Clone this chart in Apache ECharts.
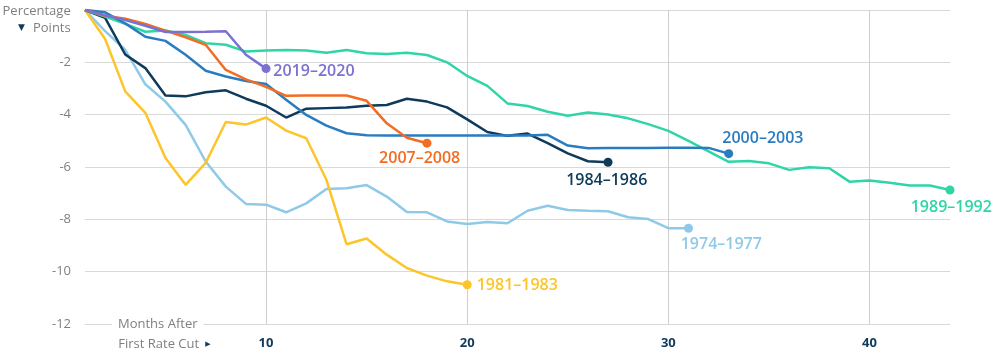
<!DOCTYPE html>
<html><head><meta charset="utf-8">
<script src="https://cdn.jsdelivr.net/npm/echarts@6/dist/echarts.min.js"></script>
<style>html,body{margin:0;padding:0;background:#fff}#c{width:997px;height:356px}</style>
</head><body><div id="c"></div>
<script>
// Months after first rate cut (category ticks)
const months = ['1','2','3','4','5','6','7','8','9','10','11','12','13','14','15','16','17','18','19','20','21','22','23','24','25','26','27','28','29','30','31','32','33','34','35','36','37','38','39','40','41','42','43','44'];
const yTicks = [0, -2, -4, -6, -8, -10, -12];

// Cumulative change in the policy rate (percentage points)
const s1974 = [0, -0.81, -1.52, -2.84, -3.50, -4.39, -5.79, -6.75, -7.41, -7.44, -7.73, -7.39, -6.84, -6.81, -6.69, -7.13, -7.72, -7.73, -8.08, -8.18, -8.10, -8.15, -7.67, -7.48, -7.64, -7.67, -7.69, -7.92, -7.99, -8.34, -8.34];
const s1981 = [0, -1.11, -3.11, -3.93, -5.66, -6.68, -5.84, -4.28, -4.38, -4.11, -4.61, -4.90, -6.49, -8.95, -8.73, -9.35, -9.86, -10.15, -10.37, -10.50];
const s1984 = [0, -0.30, -1.70, -2.22, -3.27, -3.30, -3.14, -3.07, -3.39, -3.66, -4.11, -3.77, -3.75, -3.73, -3.66, -3.63, -3.39, -3.50, -3.72, -4.18, -4.66, -4.81, -4.72, -5.09, -5.48, -5.78, -5.82];
const s1989 = [0, -0.25, -0.53, -0.83, -0.78, -0.95, -1.27, -1.33, -1.59, -1.55, -1.53, -1.55, -1.63, -1.53, -1.65, -1.68, -1.63, -1.72, -2.00, -2.52, -2.90, -3.57, -3.67, -3.89, -4.04, -3.92, -3.99, -4.14, -4.36, -4.62, -5.00, -5.40, -5.80, -5.77, -5.86, -6.11, -6.01, -6.05, -6.56, -6.52, -6.60, -6.71, -6.71, -6.88];
const s2000 = [0, -0.09, -0.51, -1.02, -1.18, -1.71, -2.32, -2.54, -2.71, -2.83, -3.43, -4.01, -4.42, -4.71, -4.79, -4.80, -4.80, -4.80, -4.80, -4.80, -4.80, -4.80, -4.80, -4.77, -5.18, -5.28, -5.27, -5.27, -5.27, -5.26, -5.26, -5.27, -5.49];
const s2007 = [0, -0.22, -0.33, -0.53, -0.79, -1.04, -1.33, -2.29, -2.65, -2.94, -3.28, -3.27, -3.27, -3.27, -3.47, -4.33, -4.88, -5.09];
const s2019 = [0, -0.20, -0.38, -0.60, -0.84, -0.84, -0.83, -0.81, -1.71, -2.24];

const seriesNames = ['1974–1977', '1981–1983', '1984–1986', '1989–1992', '2000–2003', '2007–2008', '2019–2020'];
const seriesColors = ['#8ecae8', '#fcc52b', '#0e3a5b', '#2fd5a7', '#2a7cc0', '#f26c22', '#7a71d1'];
const seriesValues = [s1974, s1981, s1984, s1989, s2000, s2007, s2019];

// end-label placement (style only)
const labelPlacement = [
  {align: 'left',   offset: [-7.8, 16.7]},
  {align: 'left',   offset: [9.5, 1]},
  {align: 'center', offset: [-1.3, 17.7]},
  {align: 'center', offset: [1.3, 17.3]},
  {align: 'left',   offset: [-6.4, -15.4]},
  {align: 'center', offset: [-7.3, 15]},
  {align: 'left',   offset: [7.3, 2.7]}
];

const FONT = '"Open Sans", "Noto Sans", sans-serif';
const GREY = '#7f7f7f';
const NAVY = '#0e3a5b';

function makeSeries(i) {
  const vals = seriesValues[i];
  const color = seriesColors[i];
  const name = seriesNames[i];
  const pl = labelPlacement[i];
  const data = vals.map((v, k) => k === vals.length - 1 ? {
    value: v, symbol: 'circle', symbolSize: 9,
    label: {
      show: true, position: 'inside', formatter: name, color: color,
      align: pl.align, verticalAlign: 'middle', offset: pl.offset,
      fontSize: 16, fontWeight: 600, fontFamily: FONT
    }
  } : v);
  return {
    type: 'line', name: name, data: data,
    symbol: 'circle', symbolSize: 0, showSymbol: true, showAllSymbol: true,
    lineStyle: {width: 2.5, color: color}, itemStyle: {color: color},
    silent: true, animation: false, z: 2 + i
  };
}

const chart = echarts.init(document.getElementById('c'), null, {renderer: 'canvas'});
chart.setOption({
  backgroundColor: '#fff',
  animation: false,
  grid: {left: 85, right: 47, top: 10, bottom: 32, containLabel: false},
  xAxis: {
    type: 'category', data: months, boundaryGap: false,
    axisLine: {show: false}, axisTick: {show: false},
    splitLine: {show: true, interval: (idx, val) => (+val) % 10 === 0, lineStyle: {color: '#cfcfcf', width: 1}},
    axisLabel: {interval: (idx, val) => (+val) % 10 === 0, color: NAVY, fontWeight: 'bold', fontSize: 13, fontFamily: FONT, margin: 13}
  },
  yAxis: {
    type: 'value', min: yTicks[yTicks.length - 1], max: yTicks[0], interval: 2,
    axisLine: {show: false}, axisTick: {show: false},
    splitLine: {show: true, lineStyle: {color: '#d9d9d9', width: 1}},
    axisLabel: {formatter: v => (v === 0 ? '' : String(v)), color: GREY, fontSize: 13, fontFamily: FONT, margin: 14}
  },
  graphic: [
    {type: 'text', z: 100, x: 70.7, y: 11, style: {text: 'Percentage', align: 'right', verticalAlign: 'middle', fill: GREY, fontSize: 13, fontFamily: FONT}},
    {type: 'text', z: 100, x: 70.7, y: 28.5, style: {text: 'Points', align: 'right', verticalAlign: 'middle', fill: GREY, fontSize: 13, fontFamily: FONT}},
    {type: 'text', z: 100, x: 21.5, y: 27.5, style: {text: '▼', align: 'center', verticalAlign: 'middle', fill: NAVY, fontSize: 9, fontFamily: '"DejaVu Sans"'}},
    {type: 'text', z: 100, x: 112, y: 324.3, style: {text: 'Months After', align: 'left', verticalAlign: 'middle', fill: GREY, fontSize: 13, fontFamily: FONT, backgroundColor: '#fff', padding: [2, 6]}},
    {type: 'text', z: 100, x: 118.3, y: 344.3, style: {text: 'First Rate Cut', align: 'left', verticalAlign: 'middle', fill: GREY, fontSize: 13, fontFamily: FONT}},
    {type: 'text', z: 100, x: 208, y: 343.8, style: {text: '▶', align: 'center', verticalAlign: 'middle', fill: NAVY, fontSize: 7, fontFamily: '"DejaVu Sans"'}}
  ],
  series: seriesValues.map((_, i) => makeSeries(i))
});
</script>
</body></html>
